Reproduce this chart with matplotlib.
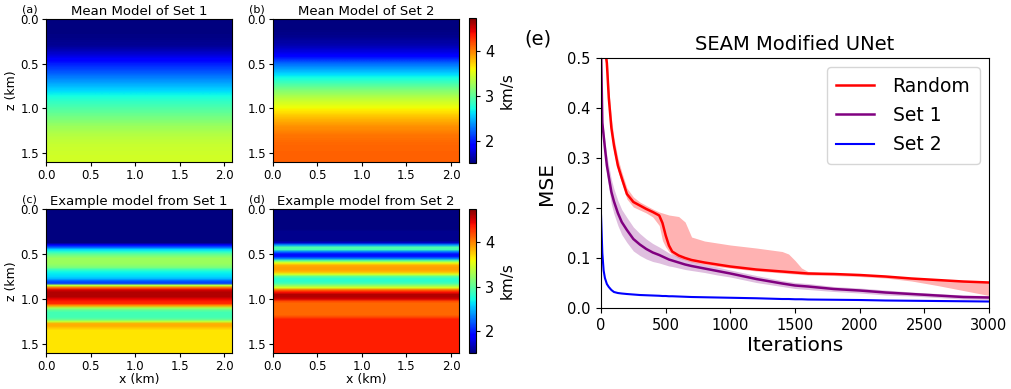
import numpy as np
import matplotlib.pyplot as plt

# ---- velocity models (km/s), one value per depth sample ----
# mean models sampled every 0.1 km, z = 0 .. 1.6
mean_set1 = [1.5, 1.5, 1.52, 1.57, 1.75, 2.0, 2.2, 2.4, 2.6, 2.8,
             2.95, 3.1, 3.25, 3.35, 3.42, 3.45, 3.47]
mean_set2 = [1.5, 1.5, 1.55, 1.65, 1.85, 2.25, 2.55, 2.85, 3.15, 3.4,
             3.6, 3.8, 3.95, 4.05, 4.1, 4.12, 4.12]

# example models sampled every 0.025 km, z = 0 .. 1.6
example_set1 = ([1.5] * 16 +
                [1.9, 2.2, 2.6, 2.8, 3.0, 3.15, 3.25, 3.25, 3.25, 3.2,
                 3.1, 2.85, 2.7, 2.65, 2.6, 2.5, 2.2, 2.1, 3.4, 4.1,
                 4.5, 4.6, 4.6, 4.6, 4.45, 4.35, 4.3, 3.9, 3.3, 3.0,
                 2.9, 2.9, 2.9, 3.0, 3.4, 3.85, 3.85, 3.75] +
                [3.67] * 11)
example_set2 = ([1.5] * 10 + [1.55] * 5 +
                [1.7, 2.4, 2.95, 2.9, 2.3, 1.95, 1.95, 2.3, 3.0, 3.55,
                 3.85, 3.9, 3.9, 3.8, 3.5, 3.0, 2.8, 2.8, 2.9, 3.2,
                 3.5, 4.1, 4.4, 4.6, 4.6, 4.5, 4.2] +
                [4.1] * 6 + [4.2] + [4.35] * 16)

model_width = 2.09   # km
model_depth = 1.6    # km
vmin, vmax = 1.5, 4.75

# ---- training curves ----
iterations = [0, 10, 20, 30, 45, 60, 80, 100, 130, 160, 200, 250, 300, 350,
              400, 450, 475, 500, 525, 550, 600, 650, 700, 800, 900, 1000,
              1200, 1400, 1450, 1500, 1550, 1600, 1800, 2000, 2200, 2400,
              2600, 2800, 3000]

random_mse = [0.70, 0.62, 0.56, 0.52, 0.49, 0.42, 0.36, 0.325, 0.285, 0.26,
              0.228, 0.212, 0.205, 0.198, 0.192, 0.185, 0.17, 0.145, 0.125,
              0.113, 0.105, 0.100, 0.096, 0.091, 0.087, 0.083, 0.077, 0.073,
              0.072, 0.071, 0.070, 0.069, 0.068, 0.066, 0.063, 0.059, 0.056,
              0.053, 0.051]
random_upper = [0.72, 0.64, 0.58, 0.54, 0.51, 0.44, 0.38, 0.34, 0.30, 0.272,
                0.24, 0.222, 0.212, 0.205, 0.198, 0.192, 0.19, 0.188, 0.186,
                0.185, 0.183, 0.172, 0.142, 0.134, 0.13, 0.126, 0.12, 0.113,
                0.108, 0.095, 0.08, 0.073, 0.069, 0.067, 0.064, 0.06, 0.057,
                0.054, 0.052]
random_lower = [0.68, 0.60, 0.54, 0.50, 0.47, 0.40, 0.345, 0.31, 0.275, 0.25,
                0.218, 0.202, 0.196, 0.19, 0.182, 0.165, 0.135, 0.122, 0.113,
                0.107, 0.10, 0.096, 0.092, 0.087, 0.083, 0.08, 0.074, 0.07,
                0.069, 0.068, 0.067, 0.066, 0.065, 0.063, 0.06, 0.054, 0.045,
                0.035, 0.025]

set1_mse = [0.52, 0.37, 0.345, 0.32, 0.285, 0.262, 0.232, 0.213, 0.19, 0.172,
            0.156, 0.138, 0.127, 0.118, 0.111, 0.106, 0.103, 0.1, 0.097,
            0.095, 0.091, 0.087, 0.084, 0.079, 0.074, 0.069, 0.058, 0.049,
            0.047, 0.045, 0.044, 0.043, 0.038, 0.035, 0.031, 0.028, 0.025,
            0.022, 0.021]
set1_spread = [0.01, 0.01, 0.012, 0.015, 0.02, 0.022, 0.025, 0.025, 0.025,
               0.025, 0.025, 0.024, 0.022, 0.02, 0.018, 0.016, 0.015, 0.014,
               0.013, 0.012, 0.011, 0.01, 0.009, 0.008, 0.008, 0.007, 0.007,
               0.006, 0.006, 0.006, 0.006, 0.006, 0.005, 0.005, 0.005, 0.004,
               0.004, 0.004, 0.004]

set2_mse = [0.185, 0.11, 0.075, 0.06, 0.048, 0.042, 0.036, 0.032, 0.03, 0.029,
            0.028, 0.027, 0.026, 0.0255, 0.025, 0.0245, 0.024, 0.024, 0.0235,
            0.0235, 0.023, 0.0225, 0.022, 0.0215, 0.021, 0.0205, 0.0195,
            0.018, 0.018, 0.0175, 0.0175, 0.017, 0.0165, 0.016, 0.015, 0.0145,
            0.014, 0.0135, 0.013]


def show_model(ax, profile, title, label):
    profile = np.asarray(profile)
    dz = model_depth / (len(profile) - 1)
    img = np.repeat(profile[:, None], 2, axis=1)
    im = ax.imshow(img, cmap='jet', vmin=vmin, vmax=vmax, aspect='auto',
                   interpolation='bilinear',
                   extent=[0, model_width, model_depth + dz / 2, -dz / 2])
    ax.set_xlim(0, model_width)
    ax.set_ylim(model_depth, 0)
    ax.set_xticks([0, 0.5, 1.0, 1.5, 2.0])
    ax.set_yticks([0, 0.5, 1.0, 1.5])
    ax.xaxis.set_major_formatter('{x:.1f}')
    ax.yaxis.set_major_formatter('{x:.1f}')
    ax.tick_params(labelsize=8.5, length=3, pad=2)
    ax.set_title(title, fontsize=9.5, pad=3)
    ax.text(-0.13, 1.035, label, transform=ax.transAxes, fontsize=8,
            va='bottom')
    return im


fig = plt.figure(figsize=(10.11, 3.89), dpi=100)

ax_a = fig.add_axes([0.0455, 0.5835, 0.184, 0.3676])
ax_b = fig.add_axes([0.270, 0.5835, 0.184, 0.3676])
cax1 = fig.add_axes([0.4639, 0.581, 0.0069, 0.3728])
ax_c = fig.add_axes([0.0455, 0.0925, 0.184, 0.370])
ax_d = fig.add_axes([0.270, 0.0925, 0.184, 0.370])
cax2 = fig.add_axes([0.4639, 0.0925, 0.0069, 0.370])
ax_e = fig.add_axes([0.5945, 0.2082, 0.3838, 0.6427])

show_model(ax_a, mean_set1, 'Mean Model of Set 1', '(a)')
im_b = show_model(ax_b, mean_set2, 'Mean Model of Set 2', '(b)')
show_model(ax_c, example_set1, 'Example model from Set 1', '(c)')
im_d = show_model(ax_d, example_set2, 'Example model from Set 2', '(d)')

for ax in (ax_a, ax_c):
    ax.set_ylabel('z (km)', fontsize=9, labelpad=2)
for ax in (ax_c, ax_d):
    ax.set_xlabel('x (km)', fontsize=9, labelpad=0)

for cax, im in ((cax1, im_b), (cax2, im_d)):
    cb = fig.colorbar(im, cax=cax, ticks=[2, 3, 4])
    cb.ax.tick_params(labelsize=10.5, length=3)
    cb.set_label('km/s', fontsize=11)

# ---- (e) loss curves ----
it = np.asarray(iterations)
ax_e.fill_between(it, random_lower, random_upper, color='red', alpha=0.3,
                  linewidth=0)
s1 = np.asarray(set1_mse)
sp = np.asarray(set1_spread)
ax_e.fill_between(it, s1 - sp, s1 + sp, color='purple', alpha=0.25,
                  linewidth=0)
ax_e.plot(it, random_mse, color='red', lw=1.8, label='Random')
ax_e.plot(it, set1_mse, color='purple', lw=1.8, label='Set 1')
ax_e.plot(it, set2_mse, color='blue', lw=1.5, label='Set 2')

ax_e.set_xlim(0, 3000)
ax_e.set_ylim(0, 0.5)
ax_e.set_xticks([0, 500, 1000, 1500, 2000, 2500, 3000])
ax_e.set_yticks([0, 0.1, 0.2, 0.3, 0.4, 0.5])
ax_e.yaxis.set_major_formatter('{x:.1f}')
ax_e.tick_params(labelsize=10.5, pad=4)
ax_e.set_xlabel('Iterations', fontsize=14.5, labelpad=2)
ax_e.set_ylabel('MSE', fontsize=14.5, labelpad=8)
ax_e.set_title('SEAM Modified UNet', fontsize=14, pad=6)
ax_e.legend(loc='upper right', fontsize=13.5, labelspacing=0.55,
            handletextpad=1.0, borderpad=0.5)
fig.text(0.519, 0.885, '(e)', fontsize=14)

fig.savefig('out.png', dpi=100)
